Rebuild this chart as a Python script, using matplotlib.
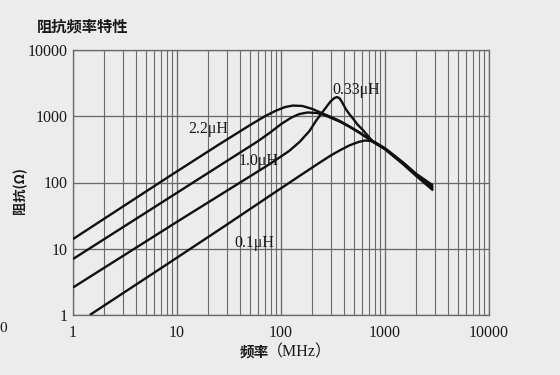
import numpy as np
import matplotlib.pyplot as plt
from matplotlib.ticker import FixedLocator, NullFormatter, LogLocator

# impedance vs frequency
f_22 = [1, 8.5, 25, 50, 70, 90, 110, 130, 160, 200, 252, 300, 367, 450, 560, 767, 1000, 1500, 2000, 2900]
z_22 = [14, 125, 370, 730, 1000, 1220, 1380, 1450, 1430, 1290, 1100, 980, 850, 710, 580, 420, 330, 200, 135, 90]

f_10 = [1, 10, 37, 60, 80, 100, 125, 150, 180, 220, 252, 300, 367, 450, 560, 767, 1000, 1500, 2000, 2900]
z_10 = [7, 70, 259, 420, 580, 760, 950, 1080, 1140, 1120, 1060, 950, 830, 700, 570, 410, 322, 192, 128, 80]

f_033 = [1, 10, 78, 120, 151, 188, 219, 250, 273, 300, 325, 346, 365, 385, 424, 460, 493, 540,
         613, 767, 1000, 1500, 2000, 2900]
z_033 = [2.6, 25.5, 190, 300, 410, 600, 870, 1150, 1380, 1680, 1880, 1950, 1870, 1650, 1250, 1050, 920, 760,
         620, 410, 318, 188, 125, 76]

f_01 = [1.45, 8.5, 30, 78, 150, 236, 300, 367, 458, 560, 640, 720, 800, 1000, 1500, 2000, 2900]
z_01 = [1.0, 6.2, 23, 63, 125, 200, 255, 305, 365, 410, 430, 425, 405, 320, 190, 128, 84]

ticks = [1, 10, 100, 1000, 10000]
tick_labels = ['1', '10', '100', '1000', '10000']

bg = '#ececec'
grid_c = '#6a6a6a'
serif = ['Liberation Serif', 'DejaVu Serif']
cjk = ['Noto Sans CJK SC', 'Liberation Serif', 'DejaVu Sans']

fig = plt.figure(figsize=(5.6, 3.75), dpi=100, facecolor=bg)
ax = fig.add_axes([73/560, 60/375, 416/560, 265/375], facecolor=bg)

ax.set_xscale('log')
ax.set_yscale('log')
ax.set_xlim(1, 10000)
ax.set_ylim(1, 10000)

for f, z in [(f_22, z_22), (f_10, z_10), (f_033, z_033), (f_01, z_01)]:
    ax.plot(f, z, color='#111111', lw=1.7, solid_joinstyle='round', solid_capstyle='butt', zorder=3)

# grid: every minor line vertically, only decades horizontally
ax.xaxis.set_major_locator(FixedLocator(ticks))
ax.xaxis.set_minor_locator(LogLocator(base=10, subs=np.arange(2, 10)))
ax.xaxis.set_minor_formatter(NullFormatter())
ax.yaxis.set_major_locator(FixedLocator(ticks))
ax.yaxis.set_minor_locator(FixedLocator([]))
ax.set_xticklabels(tick_labels)
ax.set_yticklabels(tick_labels)
ax.grid(True, which='major', axis='both', color=grid_c, lw=0.95)
ax.grid(True, which='minor', axis='x', color=grid_c, lw=0.8)
ax.tick_params(which='both', length=0)
ax.tick_params(axis='x', pad=7)
ax.tick_params(axis='y', pad=4)
for lab in ax.get_xticklabels() + ax.get_yticklabels():
    lab.set_family(serif)
    lab.set_fontsize(11.5)
    lab.set_color('#1a1a1a')
for sp in ax.spines.values():
    sp.set_color(grid_c)
    sp.set_linewidth(0.95)

# curve labels
lab_kw = dict(transform=ax.transAxes, family=serif, fontsize=11.5, color='#1a1a1a',
              ha='center', va='center', zorder=4)
ax.text(0.325, 0.702, '2.2μH', **lab_kw)
ax.text(0.447, 0.581, '1.0μH', **lab_kw)
ax.text(0.680, 0.849, '0.33μH', **lab_kw)
ax.text(0.435, 0.272, '0.1μH', **lab_kw)

fig.text(37/560, 1 - 27/375, '阻抗频率特性', family=cjk, fontsize=11, fontweight='bold',
         ha='left', va='center', color='#1a1a1a')
fig.text(20/560, 1 - 191/375, '阻抗(Ω)', family=cjk, fontsize=9.5, fontweight='bold',
         rotation=90, ha='center', va='center', color='#1a1a1a')
fig.text(254/560, 1 - 352/375, '频率', family=cjk, fontsize=10.5, fontweight='bold',
         ha='center', va='center', color='#1a1a1a')
fig.text(267/560, 1 - 352/375, '（MHz）', family=['Liberation Serif', 'Noto Sans CJK SC'],
         fontsize=11.5, ha='left', va='center', color='#1a1a1a')
fig.text(3/560, 1 - 328/375, '0', family=serif, fontsize=11, ha='center', va='center',
         color='#1a1a1a')

fig.savefig('out.png', dpi=100, facecolor=bg)
